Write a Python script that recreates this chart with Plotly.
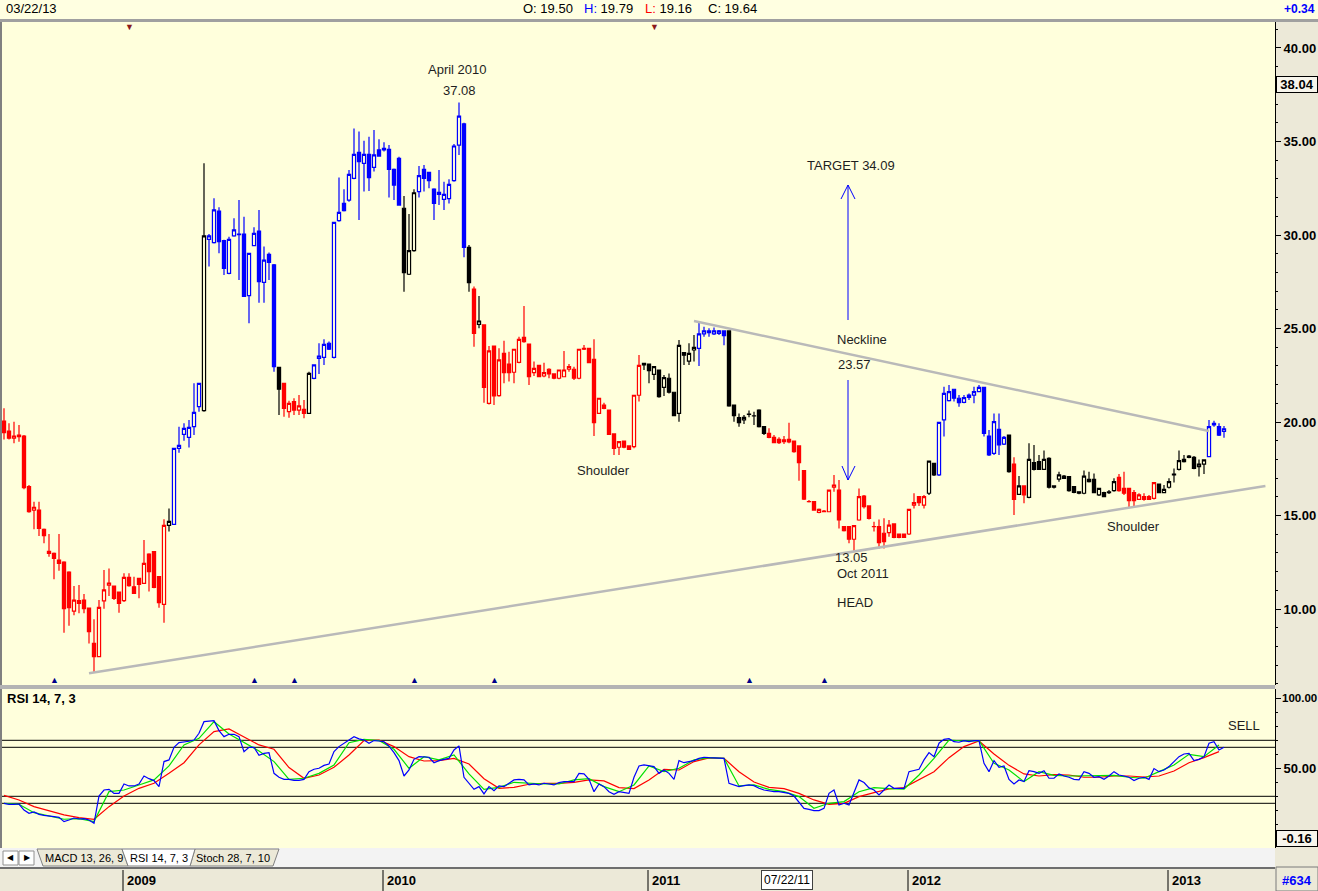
import pandas as pd
import plotly.graph_objects as go

# ---------------------------------------------------------------- data
first_week = "2008-07-18"
n_weeks = 245

opens = [
    20.05, 19.52, 19.13, 19.30, 19.25, 16.54, 15.29, 15.29, 14.26, 13.08,
    12.98, 12.62, 12.51, 11.98, 9.89, 10.45, 10.48, 10.05, 8.16, 7.45,
    10.43, 11.27, 11.23, 10.91, 10.45, 11.69, 11.19, 11.64, 11.37, 12.94,
    13.07, 11.73, 10.25, 14.47, 14.53, 18.59, 19.34, 19.18, 19.75, 20.82,
    20.61, 29.77, 29.59, 31.28, 29.70, 27.95, 29.95, 30.02, 30.05, 26.76,
    29.43, 30.21, 27.47, 28.96, 28.40, 22.92, 22.07, 20.55, 21.09, 20.64,
    20.68, 20.46, 22.33, 23.40, 23.46, 24.21, 23.46, 30.77, 31.69, 31.87,
    33.03, 34.42, 33.83, 34.31, 33.62, 34.55, 34.55, 34.58, 33.51, 34.10,
    31.43, 27.90, 29.16, 32.32, 33.51, 33.35, 32.46, 32.17, 31.91, 31.94,
    32.91, 34.81, 35.94, 29.34, 27.11, 25.22, 25.19, 21.00, 24.06, 21.41,
    23.67, 23.10, 22.66, 23.19, 24.53, 24.17, 22.64, 23.03, 22.46, 22.82,
    22.57, 22.34, 22.42, 22.82, 22.82, 22.34, 23.94, 23.94, 23.35, 20.46,
    20.91, 20.64, 19.36, 18.65, 18.98, 18.72, 18.68, 21.43, 23.14, 23.10,
    22.55, 22.78, 21.85, 22.34, 21.59, 20.46, 23.71, 23.26, 23.85, 23.94,
    24.71, 24.78, 24.71, 24.74, 24.87, 24.87, 20.91, 20.23, 20.11, 20.40,
    20.32, 20.64, 19.75, 19.39, 19.18, 19.07, 19.04, 19.07, 18.98, 18.72,
    17.40, 15.74, 15.74, 15.17, 15.20, 15.20, 16.51, 16.36, 14.40, 14.40,
    13.73, 14.76, 16.04, 15.51, 14.40, 14.40, 14.05, 14.08, 14.55, 14.01,
    14.01, 14.01, 15.56, 16.01, 15.56, 16.19, 17.79, 17.17, 20.11, 21.14,
    21.75, 21.27, 21.05, 21.32, 21.44, 21.62, 21.85, 19.25, 18.32, 19.61,
    18.82, 19.30, 17.75, 16.13, 16.58, 15.97, 17.83, 17.88, 17.47, 18.06,
    16.58, 16.95, 17.11, 17.08, 16.54, 16.27, 16.19, 16.81, 16.93, 16.10,
    16.22, 16.22, 16.33, 17.04, 16.45, 16.45, 16.22, 15.86, 16.01, 16.01,
    15.92, 16.68, 16.22, 16.51, 17.17, 17.47, 17.88, 18.18, 18.11, 17.61,
    17.75, 18.15, 19.84, 19.75, 19.50,
]
highs = [
    20.73, 19.93, 20.02, 19.84, 19.30, 16.63, 15.74, 15.74, 14.30, 14.01,
    13.02, 14.01, 12.55, 12.02, 11.23, 11.28, 10.80, 10.08, 9.45, 10.48,
    12.09, 12.17, 11.26, 10.94, 11.91, 11.91, 11.73, 11.67, 13.69, 12.98,
    13.10, 11.76, 14.80, 15.38, 18.62, 19.75, 19.93, 20.11, 22.07, 22.10,
    33.83, 30.05, 31.96, 31.48, 29.75, 29.91, 30.89, 31.87, 30.98, 29.05,
    30.41, 31.34, 29.38, 29.06, 28.45, 22.95, 22.10, 21.14, 21.27, 21.44,
    21.18, 22.69, 23.08, 24.21, 24.42, 24.30, 30.70, 33.08, 32.44, 33.48,
    35.70, 35.53, 35.04, 35.26, 35.61, 35.12, 34.96, 34.81, 33.55, 34.19,
    32.09, 31.12, 32.44, 33.69, 33.74, 33.38, 32.50, 33.48, 32.85, 32.98,
    34.87, 37.08, 36.00, 29.46, 27.24, 26.74, 25.22, 24.06, 24.09, 23.94,
    24.35, 23.76, 23.92, 24.56, 26.20, 24.20, 23.23, 23.05, 23.17, 22.87,
    22.60, 22.80, 23.80, 23.10, 22.96, 23.91, 24.12, 23.97, 24.42, 21.29,
    21.03, 20.67, 19.38, 18.97, 19.00, 18.75, 21.45, 23.58, 23.16, 23.12,
    22.98, 22.80, 22.51, 22.60, 21.62, 24.38, 23.73, 24.21, 24.65, 25.37,
    25.10, 25.01, 25.06, 24.92, 24.90, 24.90, 20.93, 20.46, 20.37, 20.61,
    20.55, 20.68, 19.78, 19.66, 19.30, 19.18, 19.25, 19.96, 19.00, 18.75,
    17.42, 15.83, 15.76, 15.38, 15.29, 16.38, 17.17, 16.90, 14.42, 14.42,
    14.48, 16.45, 16.10, 15.53, 14.67, 14.79, 14.85, 14.76, 14.57, 14.03,
    14.03, 15.35, 16.19, 16.03, 16.10, 17.93, 17.81, 20.00, 21.89, 21.98,
    21.77, 21.44, 21.44, 21.53, 21.89, 21.98, 21.87, 19.57, 20.46, 20.46,
    19.25, 19.32, 18.11, 17.11, 16.60, 18.86, 18.77, 18.24, 18.47, 18.11,
    16.60, 17.34, 17.17, 17.10, 16.56, 16.30, 17.40, 17.34, 17.25, 16.47,
    16.27, 16.36, 16.99, 17.22, 17.34, 16.47, 16.36, 16.19, 16.19, 16.10,
    16.78, 16.70, 16.63, 16.99, 17.52, 18.47, 18.24, 18.24, 18.18, 18.00,
    18.00, 20.11, 20.07, 19.93, 19.79,
]
lows = [
    19.07, 19.07, 18.86, 18.95, 16.40, 15.15, 14.26, 13.90, 13.51, 12.80,
    11.59, 12.05, 8.73, 9.11, 9.66, 9.77, 9.77, 8.16, 6.60, 7.42,
    10.02, 10.70, 10.48, 9.80, 10.37, 11.19, 10.80, 10.57, 11.34, 10.93,
    11.11, 10.07, 9.27, 14.14, 14.50, 18.36, 19.00, 18.63, 19.30, 20.55,
    20.55, 28.31, 29.55, 29.02, 27.86, 27.90, 29.90, 27.59, 26.70, 25.28,
    29.40, 26.38, 26.38, 27.59, 22.69, 20.37, 20.28, 20.23, 20.37, 20.37,
    20.20, 20.43, 22.28, 22.57, 23.05, 23.85, 23.40, 30.71, 31.25, 31.78,
    32.98, 30.80, 32.32, 32.35, 33.39, 34.19, 34.46, 32.00, 31.87, 31.57,
    26.97, 27.86, 29.11, 32.01, 32.32, 32.50, 30.80, 31.60, 31.34, 31.69,
    32.85, 34.28, 28.81, 26.97, 24.03, 25.01, 21.03, 20.94, 20.91, 21.35,
    22.07, 22.16, 22.07, 23.14, 24.24, 21.98, 22.46, 22.39, 22.39, 22.34,
    22.28, 22.28, 22.39, 22.69, 22.25, 22.28, 23.85, 23.14, 19.25, 20.43,
    20.68, 19.30, 18.24, 18.24, 18.59, 18.50, 18.59, 21.09, 22.78, 22.07,
    22.25, 21.30, 21.39, 21.53, 20.32, 20.02, 23.05, 23.05, 23.23, 23.00,
    24.56, 24.56, 24.65, 24.65, 24.10, 20.82, 20.02, 19.75, 19.89, 20.25,
    19.84, 19.71, 19.30, 19.13, 18.86, 18.82, 18.82, 18.86, 18.36, 16.86,
    15.83, 15.69, 15.26, 15.12, 15.17, 15.17, 16.27, 14.31, 14.14, 13.51,
    13.05, 14.72, 15.38, 14.79, 14.14, 13.24, 13.24, 13.87, 13.78, 13.78,
    13.80, 13.96, 15.38, 15.51, 15.38, 16.10, 17.11, 17.11, 19.22, 21.09,
    21.09, 20.82, 21.00, 21.18, 21.00, 21.59, 19.22, 18.18, 18.24, 18.24,
    18.77, 17.29, 15.03, 16.10, 15.65, 15.92, 17.40, 17.43, 17.43, 16.45,
    16.45, 16.81, 16.95, 16.27, 16.19, 16.13, 16.13, 16.76, 16.19, 16.04,
    15.97, 16.15, 16.27, 16.27, 16.10, 15.42, 15.42, 15.83, 15.79, 15.83,
    15.86, 16.19, 16.19, 16.45, 16.76, 17.40, 17.83, 18.06, 17.47, 17.08,
    17.22, 18.11, 19.75, 19.25, 19.16,
]
closes = [
    19.43, 19.13, 19.25, 19.22, 16.49, 15.20, 15.44, 14.31, 13.92, 12.98,
    12.71, 12.44, 10.02, 10.07, 10.48, 10.30, 10.02, 8.79, 7.45, 10.09,
    11.02, 11.39, 10.57, 10.30, 11.69, 11.25, 10.84, 11.32, 12.44, 12.00,
    11.16, 10.34, 14.47, 14.69, 18.59, 18.75, 19.66, 19.71, 20.52, 22.07,
    29.95, 29.95, 31.34, 29.64, 28.22, 29.77, 30.27, 30.05, 26.72, 29.02,
    30.09, 27.50, 28.66, 28.54, 22.96, 21.75, 20.73, 21.00, 20.64, 20.86,
    20.46, 22.60, 23.05, 23.53, 24.15, 23.89, 30.68, 31.21, 31.30, 33.24,
    34.31, 33.92, 34.31, 33.07, 34.28, 34.22, 34.63, 33.51, 32.67, 31.60,
    27.99, 29.16, 32.26, 33.17, 33.03, 32.91, 31.69, 32.28, 32.17, 32.71,
    34.76, 36.36, 29.34, 27.45, 24.74, 25.40, 21.85, 23.80, 21.39, 23.32,
    22.64, 22.64, 23.89, 24.42, 24.30, 22.42, 22.87, 22.42, 22.64, 22.57,
    22.34, 22.78, 22.78, 22.96, 22.34, 23.89, 23.89, 23.17, 19.96, 21.27,
    20.73, 19.34, 18.59, 18.95, 18.65, 18.54, 21.43, 23.03, 23.05, 22.75,
    22.96, 21.35, 22.37, 21.59, 20.34, 24.10, 23.57, 23.67, 23.99, 24.71,
    24.87, 24.87, 24.87, 24.87, 24.62, 20.86, 20.34, 19.96, 20.25, 20.42,
    20.33, 19.75, 19.39, 19.18, 18.89, 18.89, 18.95, 18.93, 18.41, 17.83,
    15.88, 15.75, 15.29, 15.33, 15.24, 16.36, 16.63, 14.76, 14.19, 13.73,
    14.46, 16.01, 15.47, 14.85, 14.41, 13.55, 13.60, 14.49, 13.83, 13.83,
    13.83, 15.33, 15.69, 15.69, 16.01, 17.91, 17.17, 19.98, 21.53, 21.62,
    21.27, 21.03, 21.30, 21.44, 21.62, 21.85, 19.39, 18.24, 20.02, 18.77,
    19.18, 17.34, 15.86, 16.58, 16.10, 18.00, 17.47, 17.47, 18.00, 16.51,
    16.51, 17.17, 16.99, 16.33, 16.24, 16.19, 17.11, 16.93, 16.22, 16.45,
    16.01, 16.27, 16.81, 16.33, 16.19, 15.79, 15.79, 16.10, 15.86, 15.86,
    16.76, 16.22, 16.40, 16.81, 17.22, 17.93, 18.00, 18.11, 17.52, 17.75,
    17.97, 19.75, 19.93, 19.30, 19.64,
]

# trend state of each weekly bar (run lengths, in order)
trend_runs = [
    ("down", 33), ("neutral", 1), ("up", 6), ("neutral", 1), ("up", 14),
    ("neutral", 1), ("down", 5), ("neutral", 1), ("up", 18), ("neutral", 3),
    ("up", 10), ("neutral", 1), ("down", 1), ("neutral", 1), ("down", 32),
    ("neutral", 11), ("up", 6), ("neutral", 8), ("down", 32), ("neutral", 2),
    ("up", 14), ("neutral", 1), ("down", 1), ("neutral", 1), ("down", 1),
    ("neutral", 18), ("down", 8), ("neutral", 10), ("up", 4),
]

# RSI (weekly)
rsi = [
    25.0, 24.3, 24.3, 24.5, 20.2, 17.9, 18.8, 17.1, 16.4, 16.2,
    15.5, 15.0, 11.9, 13.1, 14.5, 13.8, 14.0, 13.1, 10.7, 30.2,
    34.5, 35.0, 32.1, 32.1, 38.8, 37.4, 37.4, 38.8, 44.5, 42.6,
    41.2, 36.9, 54.8, 56.0, 65.0, 68.3, 68.6, 69.3, 70.2, 75.0,
    83.3, 83.8, 84.0, 76.9, 72.6, 74.3, 74.3, 72.6, 61.9, 65.0,
    65.0, 59.3, 60.7, 61.2, 46.4, 43.6, 42.1, 42.1, 41.4, 41.4,
    42.1, 47.6, 49.3, 50.0, 52.1, 53.1, 61.9, 65.5, 67.9, 69.8,
    72.6, 71.0, 70.2, 67.9, 69.8, 69.5, 69.0, 65.9, 61.2, 55.5,
    44.5, 48.8, 56.4, 58.3, 58.3, 57.9, 54.0, 55.5, 56.4, 57.1,
    63.1, 66.0, 43.6, 39.3, 35.0, 36.9, 31.7, 36.9, 34.0, 37.4,
    36.9, 39.3, 41.7, 42.1, 41.7, 38.1, 38.8, 38.1, 39.3, 38.8,
    38.1, 39.8, 40.5, 40.5, 40.5, 46.4, 46.0, 42.1, 33.3, 38.8,
    36.9, 33.3, 31.4, 33.3, 32.9, 32.1, 43.6, 51.7, 52.4, 51.7,
    51.2, 46.4, 48.8, 46.4, 42.1, 55.5, 54.0, 54.8, 55.5, 57.1,
    57.9, 57.6, 57.6, 57.6, 57.1, 39.3, 38.1, 36.9, 37.6, 38.1,
    37.6, 35.7, 34.5, 33.8, 33.3, 33.3, 32.9, 32.1, 30.2, 26.2,
    21.4, 20.7, 19.8, 19.8, 21.4, 32.1, 34.5, 23.8, 25.0, 23.8,
    32.1, 41.7, 39.8, 36.0, 34.5, 31.0, 34.5, 38.1, 35.7, 35.5,
    35.7, 47.6, 48.3, 49.3, 56.0, 61.2, 58.3, 67.9, 70.7, 71.2,
    69.0, 68.6, 69.8, 69.0, 69.8, 69.8, 53.6, 47.6, 55.5, 50.7,
    51.7, 42.1, 38.8, 41.7, 40.5, 48.3, 47.6, 46.4, 48.3, 42.9,
    42.9, 46.0, 44.5, 43.6, 42.1, 41.7, 47.6, 46.4, 43.6, 44.0,
    42.1, 44.5, 47.6, 45.2, 44.5, 43.6, 41.2, 42.9, 43.6, 42.1,
    49.8, 47.6, 48.8, 51.2, 54.8, 58.3, 60.2, 60.7, 55.5, 56.4,
    58.3, 67.9, 69.0, 63.1, 65.0,
]
# RSI averages, read every third week
rsi_fast = [
    25.0, 24.3, 18.3, 16.2, 13.6, 14.0, 11.9, 33.3, 34.5, 38.1,
    41.7, 51.7, 66.7, 71.4, 83.3, 74.5, 68.3, 62.4, 54.8, 42.1,
    42.9, 46.4, 52.4, 68.3, 70.7, 69.8, 63.6, 50.0, 58.3, 56.0,
    59.5, 46.0, 35.0, 36.4, 40.0, 39.3, 38.8, 38.8, 41.7, 42.6,
    36.9, 33.3, 38.1, 51.7, 47.6, 50.0, 56.0, 57.6, 57.1, 37.4,
    38.1, 35.0, 33.3, 29.8, 21.4, 25.0, 26.2, 33.3, 36.2, 35.5,
    35.2, 45.2, 57.1, 70.2, 69.5, 69.8, 53.6, 48.8, 40.5, 47.6,
    45.0, 44.5, 44.5, 44.5, 45.0, 43.6, 42.9, 47.6, 52.4, 60.0,
    58.3, 66.7,
]
rsi_slow = [
    30.7, 27.4, 22.6, 19.8, 16.7, 14.8, 13.6, 22.6, 30.2, 35.7,
    39.3, 46.4, 54.0, 66.7, 76.2, 78.1, 72.6, 66.7, 63.6, 50.5,
    42.9, 45.2, 50.7, 59.5, 69.8, 70.2, 65.5, 58.3, 55.2, 55.5,
    57.1, 53.1, 42.6, 35.7, 36.4, 38.6, 39.3, 39.3, 40.0, 41.7,
    41.0, 36.2, 35.5, 41.7, 49.3, 48.8, 54.8, 57.4, 57.1, 47.6,
    40.2, 36.4, 35.5, 32.1, 27.4, 24.3, 25.0, 29.8, 32.6, 35.2,
    36.2, 42.1, 47.6, 57.6, 65.5, 69.5, 60.2, 52.1, 46.0, 44.5,
    45.5, 45.2, 43.6, 43.6, 44.5, 44.5, 43.8, 44.5, 48.1, 54.0,
    57.6, 61.9,
]
rsi_avg_step = 3
rsi_levels = [70, 65, 30, 25]

buy_signal_weeks = [10, 50, 58, 82, 98, 149, 164]
sell_signal_weeks = [25, 130]

support_dates = ["2008-11-14", "2013-05-19"]
support_values = [6.56, 16.58]
neckline_dates = ["2011-03-11", "2013-03-01"]
neckline_values = [25.40, 19.52]

price_ticks = [10, 15, 20, 25, 30, 35, 40]
rsi_ticks = [50, 100]
last_date_text = "03/22/13"
last_o, last_h, last_l, last_c, last_chg = 19.50, 19.79, 19.16, 19.64, 0.34
marker_price = 38.04
rsi_min_marker = -0.16
cursor_date = "2011-07-22"
bar_count = 634

# ---------------------------------------------------------------- layout helpers
W, H = 1318, 891
ML, MR, MT, MB = 2, 43, 22, 43
PW, PH = W - ML - MR, H - MT - MB


def fx(x):
    return (x - ML) / PW


def fy(y):
    return (H - MB - y) / PH


BG = "#FFFFDC"
GUTTER = "#ECE9D8"
TXT = "#1E1E1E"
FONT = "Liberation Sans, Arial, sans-serif"

dates = pd.date_range(first_week, periods=n_weeks, freq="7D")
trend = [s for s, k in trend_runs for _ in range(k)]
trend_color = {"down": "#FF0000", "up": "#0000FF", "neutral": "#000000"}

fig = go.Figure()

# trend lines
fig.add_trace(go.Scatter(x=pd.to_datetime(support_dates), y=support_values, mode="lines",
                         line=dict(color="#B9B9B9", width=2.5), xaxis="x", yaxis="y",
                         hoverinfo="skip"))
fig.add_trace(go.Scatter(x=pd.to_datetime(neckline_dates), y=neckline_values, mode="lines",
                         line=dict(color="#B9B9B9", width=2.5), xaxis="x", yaxis="y",
                         hoverinfo="skip"))

for state, col in trend_color.items():
    idx = [i for i, s in enumerate(trend) if s == state]
    fig.add_trace(go.Candlestick(
        x=[dates[i] for i in idx],
        open=[opens[i] for i in idx], high=[highs[i] for i in idx],
        low=[lows[i] for i in idx], close=[closes[i] for i in idx],
        increasing=dict(line=dict(color=col, width=1.2), fillcolor=BG),
        decreasing=dict(line=dict(color=col, width=1.2), fillcolor=col),
        whiskerwidth=0, xaxis="x", yaxis="y", hoverinfo="skip", name=state,
    ))

# RSI panel
avg_dates = dates[::rsi_avg_step]
fig.add_trace(go.Scatter(x=avg_dates, y=rsi_slow, mode="lines", line=dict(color="#FF0000", width=1.2),
                         xaxis="x2", yaxis="y2", hoverinfo="skip"))
fig.add_trace(go.Scatter(x=avg_dates, y=rsi_fast, mode="lines", line=dict(color="#00E000", width=1.2),
                         xaxis="x2", yaxis="y2", hoverinfo="skip"))
fig.add_trace(go.Scatter(x=dates, y=rsi, mode="lines", line=dict(color="#0000FF", width=1.2),
                         xaxis="x2", yaxis="y2", hoverinfo="skip"))

x_start = dates[0] - pd.Timedelta(days=2.8)
x_end = dates[0] + pd.Timedelta(days=(1275 - 4) * 1.4)

shapes = []
annotations = []

for lv in rsi_levels:
    shapes.append(dict(type="line", xref="x2 domain", yref="y2", x0=0, x1=1, y0=lv, y1=lv,
                       line=dict(color="black", width=1), layer="below"))


def rect(x0, y0, x1, y1, fill, line=None, lw=1):
    shapes.append(dict(type="rect", xref="paper", yref="paper", x0=fx(x0), x1=fx(x1),
                       y0=fy(y1), y1=fy(y0), fillcolor=fill,
                       line=dict(color=line or fill, width=lw if line else 0), layer="above"))


def path(pts, fill, line="#808080"):
    d = "M " + " L ".join(f"{fx(px)},{fy(py)}" for px, py in pts) + " Z"
    shapes.append(dict(type="path", xref="paper", yref="paper", path=d, fillcolor=fill,
                       line=dict(color=line, width=1), layer="above"))


def text(x, y, s, size=13, color=TXT, anchor="center", family=FONT, **kw):
    annotations.append(dict(xref="paper", yref="paper", x=fx(x), y=fy(y), text=s, showarrow=False,
                            xanchor=anchor, yanchor="middle", font=dict(size=size, color=color, family=family),
                            **kw))


def seg(x0, y0, x1, y1, color="#0000FF", w=1):
    shapes.append(dict(type="line", xref="paper", yref="paper", x0=fx(x0), x1=fx(x1),
                       y0=fy(y0), y1=fy(y1), line=dict(color=color, width=w), layer="above"))


# header strip
rect(0, 0, 1318, 19, "#FFFFE1")
rect(0, 19, 1318, 22, "#A0A0A0")
# left border & panel separator
rect(0, 22, 2, 848, "#808080")
rect(0, 685, 1275, 689, "#B4B4B4")
# tab strip
rect(0, 848, 1275, 867, "#F3F3F3")
rect(3, 851, 18, 865, "#FFFFFF", "#909090")
rect(19, 851, 34, 865, "#FFFFFF", "#909090")
path([(37, 849), (122, 849), (128, 866), (43, 866)], GUTTER)
path([(195, 849), (279, 849), (273, 866), (190, 866)], GUTTER)
path([(122, 849), (195, 849), (190, 866), (128, 866)], "#FFFFFF")
# date strip
rect(0, 867, 1275, 891, GUTTER)
rect(0, 867, 1275, 869, "#6E6E6E")
rect(1276, 867, 1318, 891, GUTTER, "#7A7A7A")

text(10, 858, "◀", size=8, color="black")
text(27, 858, "▶", size=8, color="black")
text(84, 858, "MACD 13, 26, 9", size=11, color="black")
text(159, 858, "RSI 14, 7, 3", size=11, color="black")
text(233, 858, "Stoch 28, 7, 10", size=11, color="black")

# year labels and separators in the date strip
for yr in sorted(set(d.year for d in dates)):
    first = [d for d in dates if d.year == yr][0]
    if yr == dates[0].year:
        continue
    shapes.append(dict(type="line", xref="x2", yref="paper", x0=first - pd.Timedelta(days=1.4),
                       x1=first - pd.Timedelta(days=1.4), y0=fy(870), y1=fy(891),
                       line=dict(color="black", width=1), layer="above"))
    annotations.append(dict(xref="x2", yref="paper", x=first, y=fy(880), text=f"<b>{yr}</b>",
                            showarrow=False, xanchor="left", yanchor="middle", xshift=1,
                            font=dict(size=13, color="black", family=FONT)))
cd = pd.Timestamp(cursor_date)
annotations.append(dict(xref="x2", yref="paper", x=cd, y=fy(880), text=cd.strftime("%m/%d/%y"),
                        showarrow=False, xanchor="center", yanchor="middle", xshift=-2,
                        bgcolor="#FFFFFF", bordercolor="#404040", borderwidth=1, borderpad=2,
                        font=dict(size=12, color="black", family=FONT)))

# header text
text(4, 9, last_date_text, size=13, color="black", anchor="left")
text(521, 9, f"O: {last_o:.2f}", size=13, color="black", anchor="left")
text(582, 9, f"<span style='color:#0000FF'>H:</span> {last_h:.2f}", size=13, color="black", anchor="left")
text(643, 9, f"<span style='color:#FF0000'>L:</span> {last_l:.2f}", size=13, color="black", anchor="left")
text(706, 9, f"C: {last_c:.2f}", size=13, color="black", anchor="left")
text(1317, 9, f"<b>+{last_chg:.2f}</b>", size=12, color="#0000FF", anchor="right")
text(1297, 880, f"<b>#{bar_count}</b>", size=13, color="#0000FF")

# boxed values in the right gutter
annotations.append(dict(xref="paper", yref="y", x=1, y=marker_price, text=f"<b>{marker_price:.2f}</b>",
                        showarrow=False, xanchor="left", yanchor="middle", xshift=1,
                        bgcolor="#F7F5EC", bordercolor="black", borderwidth=1, borderpad=0,
                        width=40, font=dict(size=13, color="black", family=FONT)))
annotations.append(dict(xref="paper", yref="y2", x=1, y=rsi_min_marker, text=f"<b>{rsi_min_marker:.2f}</b>",
                        showarrow=False, xanchor="left", yanchor="middle", xshift=1,
                        bgcolor="#F7F5EC", bordercolor="black", borderwidth=1, borderpad=0,
                        width=40, font=dict(size=13, color="black", family=FONT)))
# top RSI tick label, slightly smaller so it fits in the gutter
annotations.append(dict(xref="paper", yref="y2", x=1, y=rsi_ticks[-1], text=f"<b>{rsi_ticks[-1]:.2f}</b>",
                        showarrow=False, xanchor="left", yanchor="middle", xshift=5,
                        font=dict(size=11.5, color="black", family=FONT)))

# signal markers
for w in sell_signal_weeks:
    annotations.append(dict(xref="x", yref="paper", x=dates[w], y=fy(27), text="▼", showarrow=False,
                            font=dict(size=9, color="#8B1A1A"), xanchor="center", yanchor="middle"))
for w in buy_signal_weeks:
    annotations.append(dict(xref="x", yref="paper", x=dates[w], y=fy(679), text="▲", showarrow=False,
                            font=dict(size=9, color="#00008B"), xanchor="center", yanchor="middle"))

# chart annotations
text(457, 69, "April 2010")
text(460, 91, "37.08")
text(851, 165, "TARGET 34.09")
text(862, 339, "Neckline")
text(854, 364, "23.57")
text(603, 470, "Shoulder")
text(851, 557, "13.05")
text(863, 573, "Oct 2011")
text(855, 602, "HEAD")
text(1133, 526, "Shoulder")
text(1244, 725, "SELL")
text(5, 698, "<b>RSI 14, 7, 3</b>", size=13, color="black", anchor="left")

# target arrows
seg(848, 185, 848, 320)
seg(841, 199, 848, 185)
seg(855, 199, 848, 185)
seg(848, 380, 848, 480)
seg(842, 466, 848, 480)
seg(855, 466, 848, 480)

axis_font = dict(size=13, color="black", family=FONT, weight="bold")
fig.update_layout(
    width=W, height=H,
    margin=dict(l=ML, r=MR, t=MT, b=MB, autoexpand=False),
    paper_bgcolor=GUTTER, plot_bgcolor=BG,
    showlegend=False, hovermode=False,
    boxgap=0.1,
    xaxis=dict(domain=[0, 1], anchor="y", range=[x_start, x_end], showticklabels=False,
               showgrid=False, zeroline=False, ticks="", rangeslider=dict(visible=False),
               showline=False, automargin=False),
    xaxis2=dict(domain=[0, 1], anchor="y2", matches="x", range=[x_start, x_end],
                showticklabels=False, showgrid=False, zeroline=False, ticks="",
                rangeslider=dict(visible=False), showline=False, automargin=False),
    yaxis=dict(domain=[fy(685), 1], range=[5.936, 41.39], side="right", automargin=False,
               tickvals=price_ticks, ticktext=[f"{v:.2f}" for v in price_ticks],
               ticks="outside", ticklen=5, tickcolor="black", tickwidth=1,
               showline=True, linecolor="black", linewidth=1, showgrid=False, zeroline=False,
               tickfont=axis_font,
               minor=dict(dtick=1, tick0=0, ticks="outside", ticklen=2, tickcolor="black")),
    yaxis2=dict(domain=[0, fy(689)], range=[-6.93, 106.64], side="right", automargin=False,
                tickvals=rsi_ticks, ticktext=[f"{v:.2f}" for v in rsi_ticks[:-1]] + [""],
                ticks="outside", ticklen=5, tickcolor="black", tickwidth=1,
                showline=True, linecolor="black", linewidth=1, showgrid=False, zeroline=False,
                tickfont=axis_font,
                minor=dict(dtick=10, tick0=0, ticks="outside", ticklen=2, tickcolor="black")),
    shapes=shapes,
    annotations=annotations,
)

fig.write_html("out.html", config={"displayModeBar": False},
               post_script="document.body.style.margin='0';document.body.style.padding='0';")
